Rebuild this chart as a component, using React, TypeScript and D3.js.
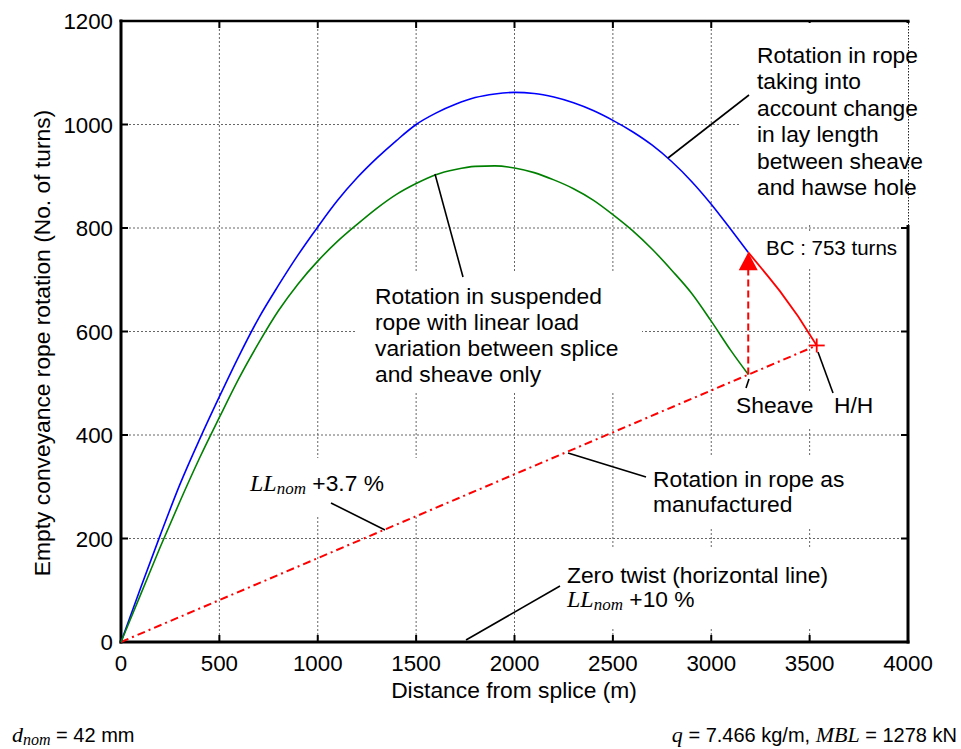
import React from "react";
import * as d3 from "d3";

const blueX = [0, 100, 200, 300, 400, 500, 600, 700, 800, 900, 1000, 1100, 1200, 1300, 1400, 1500, 1600, 1700, 1800, 1900, 2000, 2100, 2200, 2300, 2400, 2500, 2600, 2700, 2800, 2900, 3000, 3100, 3188];
const blueY = [0, 105, 207, 305, 392, 474, 553, 626, 689, 748, 802, 853, 897, 935, 969, 1000, 1022, 1039, 1052, 1059, 1062, 1060, 1053, 1042, 1027, 1008, 986, 960, 928, 890, 846, 797, 753];
const greenX = [0, 100, 200, 300, 400, 500, 600, 700, 800, 900, 1000, 1100, 1200, 1300, 1400, 1500, 1600, 1700, 1800, 1900, 2000, 2100, 2200, 2300, 2400, 2500, 2600, 2700, 2800, 2900, 3000, 3100, 3188];
const greenY = [0, 92, 184, 272, 356, 434, 510, 578, 640, 692, 736, 774, 807, 838, 865, 886, 903, 913, 919, 920, 916, 907, 893, 876, 854, 826, 795, 759, 718, 674, 620, 563, 517];
const redX = [3188, 3290, 3349, 3442, 3536];
const redY = [753, 706, 678, 629, 573];
const mfgX = [0, 3536];
const mfgY = [0, 573];
const sheaveX = 3188;
const sheaveFrom = 517;
const sheaveTo = 753;
const hhX = 3536;
const hhY = 573;
const xTicks = [0, 500, 1000, 1500, 2000, 2500, 3000, 3500, 4000];
const yTicks = [0, 200, 400, 600, 800, 1000, 1200];

const W = 961, H = 749;
const SANS = "'Liberation Sans', Arial, Helvetica, sans-serif";
const SERIF = "'Liberation Serif', 'Times New Roman', serif";

export default function App() {
  const x = d3.scaleLinear().domain([0, 4000]).range([121, 908]);
  const y = d3.scaleLinear().domain([0, 1200]).range([642, 21]);
  const line = d3.line<[number, number]>().x(d => x(d[0])).y(d => y(d[1]));
  const curve = d3.line<[number, number]>().x(d => x(d[0])).y(d => y(d[1])).curve(d3.curveMonotoneX);
  const zip = (a: number[], b: number[]) => a.map((v, i) => [v, b[i]] as [number, number]);

  const [x0, x1] = x.range();
  const [yb, yt] = y.range();
  const grid = "#666";

  // white label backgrounds (hide grid under text)
  const boxes = [
    [740, 23, 200, 202],
    [760, 232, 145, 36],
    [355, 272, 287, 120],
    [725, 392, 160, 36],
    [645, 457, 215, 71],
    [560, 548, 290, 79],
    [245, 458, 195, 57],
  ];

  const fs = 22.8;
  const ax = x(sheaveX);
  const aTop = y(sheaveTo);

  return (
    <svg width={W} height={H} style={{ position: "absolute", left: 0, top: 0, background: "#fff" }} fontFamily={SANS}>
      {/* grid */}
      {xTicks.slice(1, -1).map(t => (
        <line key={"gx" + t} x1={x(t)} x2={x(t)} y1={yt} y2={yb} stroke={grid} strokeWidth={1} strokeDasharray="2,2" />
      ))}
      {yTicks.slice(1, -1).map(t => (
        <line key={"gy" + t} x1={x0} x2={x1} y1={y(t)} y2={y(t)} stroke={grid} strokeWidth={1} strokeDasharray="2,2" />
      ))}
      {/* frame */}
      <line x1={x0} x2={x0} y1={yt - 1.5} y2={yb + 1.5} stroke="#000" strokeWidth={3} />
      <line x1={x0 - 1.5} x2={x1 + 1.5} y1={yb} y2={yb} stroke="#000" strokeWidth={3} />
      <line x1={x0 - 1.5} x2={x1 + 1.5} y1={yt} y2={yt} stroke="#000" strokeWidth={2.5} />
      <line x1={x1} x2={x1} y1={yt} y2={yb + 1.5} stroke="#000" strokeWidth={3} />
      {/* ticks */}
      {xTicks.slice(1, -1).map(t => (
        <g key={"tx" + t}>
          <line x1={x(t)} x2={x(t)} y1={yb} y2={yb - 7} stroke="#000" strokeWidth={2} />
          <line x1={x(t)} x2={x(t)} y1={yt} y2={yt + 7} stroke="#000" strokeWidth={2} />
        </g>
      ))}
      {yTicks.slice(1, -1).map(t => (
        <g key={"ty" + t}>
          <line x1={x0} x2={x0 + 7} y1={y(t)} y2={y(t)} stroke="#000" strokeWidth={2} />
          <line x1={x1} x2={x1 - 7} y1={y(t)} y2={y(t)} stroke="#000" strokeWidth={2} />
        </g>
      ))}
      {boxes.map((b, i) => (
        <rect key={"b" + i} x={b[0]} y={b[1]} width={b[2]} height={b[3]} fill="#fff" />
      ))}
      <line x1={x1 + 0.5} x2={x1 + 0.5} y1={yt + 2} y2={226} stroke="#222" strokeWidth={1} strokeDasharray="1.5,1.5" />

      {/* tick labels */}
      {xTicks.map(t => (
        <text key={"lx" + t} x={x(t)} y={671} textAnchor="middle" fontSize={22.3}>{t}</text>
      ))}
      {yTicks.map(t => (
        <text key={"ly" + t} x={113} y={y(t) + 8} textAnchor="end" fontSize={22.3}>{t}</text>
      ))}
      <text x={514} y={698} textAnchor="middle" fontSize={fs}>Distance from splice (m)</text>
      <text transform={`translate(50,343) rotate(-90)`} textAnchor="middle" fontSize={fs}>Empty conveyance rope rotation (No. of turns)</text>

      {/* data */}
      <path d={line(zip(mfgX, mfgY)) || ""} fill="none" stroke="#ff0000" strokeWidth={2} strokeDasharray="8,4,2,4" />
      <path d={curve(zip(blueX, blueY)) || ""} fill="none" stroke="#0000ff" strokeWidth={1.6} />
      <path d={curve(zip(greenX, greenY)) || ""} fill="none" stroke="#008000" strokeWidth={1.6} />
      <path d={line(zip(redX, redY)) || ""} fill="none" stroke="#ff0000" strokeWidth={1.8} />
      <line x1={ax} x2={ax} y1={y(sheaveFrom)} y2={aTop + 16} stroke="#ff0000" strokeWidth={2} strokeDasharray="7,4" />
      <path d={`M${ax},${aTop} L${ax - 9.5},${aTop + 18} L${ax + 9.5},${aTop + 18} Z`} fill="#ff0000" />
      <g stroke="#ff0000" strokeWidth={1.8}>
        <line x1={x(hhX) - 8} x2={x(hhX) + 8} y1={y(hhY)} y2={y(hhY)} />
        <line x1={x(hhX)} x2={x(hhX)} y1={y(hhY) - 7} y2={y(hhY) + 7} />
      </g>

      {/* annotation leaders */}
      <g stroke="#000" strokeWidth={1.6}>
        <line x1={668} y1={158} x2={749} y2={95} />
        <line x1={435} y1={174} x2={463} y2={277} />
        <line x1={749} y1={379} x2={746} y2={388} />
        <line x1={818} y1={352} x2={833} y2={393} />
        <line x1={568} y1={453} x2={646} y2={477} />
        <line x1={331} y1={503} x2={385} y2={530} />
        <line x1={560} y1={586} x2={466} y2={640} />
      </g>

      {/* annotation texts */}
      <text x={757} fontSize={fs}>
        {["Rotation in rope", "taking into", "account change", "in lay length", "between sheave", "and hawse hole"].map((s, i) => (
          <tspan key={i} x={757} y={63 + i * 26.4}>{s}</tspan>
        ))}
      </text>
      <text x={766} y={255} fontSize={20.5}>BC : 753 turns</text>
      <text fontSize={fs}>
        {["Rotation in suspended", "rope with linear load", "variation between splice", "and sheave only"].map((s, i) => (
          <tspan key={i} x={375} y={304 + i * 26}>{s}</tspan>
        ))}
      </text>
      <text x={736} y={413} fontSize={fs}>Sheave</text>
      <text x={834} y={413} fontSize={fs}>H/H</text>
      <text fontSize={fs}>
        <tspan x={653} y={487}>Rotation in rope as</tspan>
        <tspan x={653} y={512}>manufactured</tspan>
      </text>
      <text x={567} y={583} fontSize={fs}>Zero twist (horizontal line)</text>
      <text x={567} y={607} fontSize={fs}>
        <tspan fontFamily={SERIF} fontStyle="italic" fontSize={24}>LL</tspan>
        <tspan fontFamily={SERIF} fontStyle="italic" fontSize={17} dy={3}>nom</tspan>
        <tspan dy={-3}> +10 %</tspan>
      </text>
      <text x={250} y={491} fontSize={fs}>
        <tspan fontFamily={SERIF} fontStyle="italic" fontSize={24}>LL</tspan>
        <tspan fontFamily={SERIF} fontStyle="italic" fontSize={17} dy={3}>nom</tspan>
        <tspan dy={-3}> +3.7 %</tspan>
      </text>

      {/* footer */}
      <text x={12} y={742} fontSize={20}>
        <tspan fontFamily={SERIF} fontStyle="italic" fontSize={22}>d</tspan>
        <tspan fontFamily={SERIF} fontStyle="italic" fontSize={16} dy={3}>nom</tspan>
        <tspan dy={-3}> = 42 mm</tspan>
      </text>
      <text x={957} y={742} fontSize={20} textAnchor="end">
        <tspan fontFamily={SERIF} fontStyle="italic" fontSize={22}>q</tspan>
        <tspan> = 7.466 kg/m, </tspan>
        <tspan fontFamily={SERIF} fontStyle="italic" fontSize={22}>MBL</tspan>
        <tspan> = 1278 kN</tspan>
      </text>
    </svg>
  );
}
